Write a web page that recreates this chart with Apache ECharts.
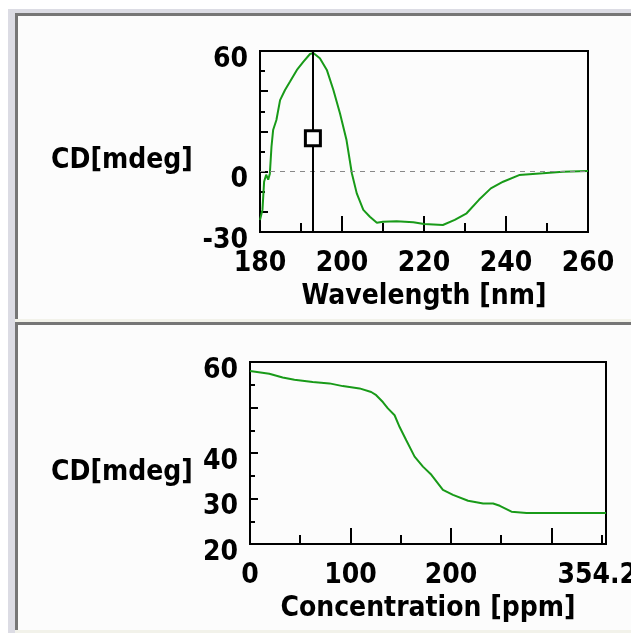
<!DOCTYPE html>
<html>
<head>
<meta charset="utf-8">
<script src="https://cdn.jsdelivr.net/npm/echarts@6/dist/echarts.min.js"></script>
<style>
  html, body { margin: 0; padding: 0; background: #ffffff; overflow: hidden; }
  .strip { position: absolute; left: 8px; top: 9px; width: 700px; height: 700px; background: #dcdce4; }
  .panel { position: absolute; left: 15px; width: 700px; background: #fcfcfc;
           border-left: 3px solid #767676; border-top: 3px solid #767676; box-sizing: border-box; }
  .sep { position: absolute; left: 15px; width: 700px; background: #f2f2ea; }
  #chart { position: absolute; left: 0; top: 0; width: 631px; height: 633px; }
</style>
</head>
<body>
<div class="strip"></div>
<div class="panel" style="top:13px;height:306px"></div>
<div class="sep" style="top:319px;height:3px"></div>
<div class="panel" style="top:322px;height:308px"></div>
<div class="sep" style="top:630px;height:3px"></div>
<div id="chart"></div>
<script>
// spectrum (upper panel)
var wavelength = [180, 180.6, 181, 181.5, 182, 182.4, 182.8, 183.2, 184, 184.9, 186.1, 187.3, 189, 190.6, 192.2, 193,
  194.6, 196.3, 197.9, 199.5, 201.1, 202.4, 203.6, 205.2, 206.8, 208.5, 210, 213.3, 217.4, 220, 224.6, 227.5,
  230.4, 233.4, 236.3, 239.3, 243.2, 249, 253.9, 260];
var cdSpectrum = [-24, -19, -5, -1.5, -4, -1, 12.4, 20.7, 25.7, 35.6, 40.6, 44.7, 50.6, 54.7, 58.5, 59,
  56.4, 50.6, 40.6, 29, 15.7, -0.8, -10.8, -19, -22.4, -25.4, -24.9, -24.6, -25.2, -26, -26.5, -24,
  -20.7, -14, -8.3, -5, -1.7, -0.8, 0, 0.3];
var cursorWl = 192.9;
var cursorCd = 16.6;

// titration (lower panel)
var concentration = [0, 19.2, 32.5, 44.2, 62.4, 79.1, 92.3, 109, 120.6, 125.6, 132.2, 137.2, 143.9, 148.9, 155.5,
  163.8, 172.1, 180.5, 192, 202, 217, 232, 241.9, 248.6, 260.2, 275.2, 354.27];
var cdTitration = [58, 57.4, 56.6, 56.1, 55.6, 55.3, 54.7, 54.2, 53.4, 52.7, 51.2, 49.8, 48.3, 45.7, 42.8,
  39.2, 37, 35.2, 31.9, 30.8, 29.5, 28.9, 28.9, 28.4, 27.1, 26.8, 26.8];

// ticks / labels
var wlLabels = [180, 200, 220, 240, 260];
var wlMajor = [200, 220, 240];
var wlMinor = [190, 210, 230, 250];
var cdTopLabels = [-30, 0, 60];
var cdTopMajor = [-20, 0, 20, 40];
var cdTopMinor = [-10, 10, 30, 50];
var concLabels = [0, 100, 200, 354.27];
var concMajor = [100, 200, 300];
var concMinor = [50, 150, 250, 350];
var cdBotLabels = [20, 30, 40, 60];
var cdBotMajor = [30, 40, 50];
var cdBotMinor = [25, 35, 45, 55];

var FONT = 'DejaVu Sans Condensed';
var GREEN = '#189a18';

var labelX = { fontFamily: FONT, fontWeight: 'bold', fontSize: 28, color: '#000', margin: 18 };
var labelY = { fontFamily: FONT, fontWeight: 'bold', fontSize: 28, color: '#000', margin: 12, verticalAlign: 'top', lineHeight: 17 };
var nameStyle = { fontFamily: FONT, fontWeight: 'bold', fontSize: 28, color: '#000' };

function xAx(grid, min, max, labels, ticks, len, name) {
  return {
    type: 'value', gridIndex: grid, min: min, max: max, position: 'bottom',
    name: name || '', nameLocation: 'middle', nameGap: 51, nameTextStyle: nameStyle,
    axisLine: { show: false, onZero: false },
    splitLine: { show: false },
    axisTick: { show: true, inside: true, length: len, customValues: ticks, lineStyle: { color: '#000', width: 2 } },
    axisLabel: labels ? Object.assign({ show: true, customValues: labels }, labelX) : { show: false }
  };
}
function yAx(grid, min, max, labels, ticks, len) {
  return {
    type: 'value', gridIndex: grid, min: min, max: max, position: 'left',
    axisLine: { show: false, onZero: false },
    splitLine: { show: false },
    axisTick: { show: true, inside: true, length: len, customValues: ticks, lineStyle: { color: '#000', width: 2 } },
    axisLabel: labels ? Object.assign({ show: true, customValues: labels }, labelY) : { show: false }
  };
}

var chart = echarts.init(document.getElementById('chart'), null, { renderer: 'canvas' });
chart.setOption({
  backgroundColor: 'transparent',
  animation: false,
  grid: [
    { left: 260, top: 51, width: 328, height: 181, show: true, borderColor: '#000', borderWidth: 2,
      backgroundColor: 'transparent', outerBoundsMode: 'none', containLabel: false },
    { left: 250, top: 362, width: 356, height: 182, show: true, borderColor: '#000', borderWidth: 2,
      backgroundColor: 'transparent', outerBoundsMode: 'none', containLabel: false }
  ],
  xAxis: [
    xAx(0, 180, 260, wlLabels, wlMajor, 16, 'Wavelength [nm]'),
    xAx(0, 180, 260, null, wlMinor, 9),
    xAx(1, 0, 354.27, concLabels, concMajor, 16, 'Concentration [ppm]'),
    xAx(1, 0, 354.27, null, concMinor, 9)
  ],
  yAxis: [
    yAx(0, -30, 60, cdTopLabels, cdTopMajor, 8),
    yAx(0, -30, 60, null, cdTopMinor, 5),
    yAx(1, 20, 60, cdBotLabels, cdBotMajor, 8),
    yAx(1, 20, 60, null, cdBotMinor, 5)
  ],
  graphic: [
    { type: 'text', left: 51, top: 147, style: { text: 'CD[mdeg]', font: 'bold 28px "DejaVu Sans Condensed"', fill: '#000' } },
    { type: 'text', left: 51, top: 459, style: { text: 'CD[mdeg]', font: 'bold 28px "DejaVu Sans Condensed"', fill: '#000' } }
  ],
  series: [
    {
      type: 'line', xAxisIndex: 0, yAxisIndex: 0, symbol: 'none',
      data: wavelength.map(function (w, i) { return [w, cdSpectrum[i]]; }),
      lineStyle: { color: GREEN, width: 2 },
      markLine: {
        silent: true, symbol: 'none', label: { show: false },
        data: [
          { yAxis: 0, lineStyle: { color: '#888', width: 1, type: [5, 5] } },
          { xAxis: cursorWl, lineStyle: { color: '#000', width: 2, type: 'solid' } }
        ]
      }
    },
    {
      type: 'scatter', xAxisIndex: 0, yAxisIndex: 0, symbol: 'rect', symbolSize: 15,
      data: [[cursorWl, cursorCd]],
      itemStyle: { color: '#fff', borderColor: '#000', borderWidth: 3, opacity: 1 },
      z: 5
    },
    {
      type: 'line', xAxisIndex: 2, yAxisIndex: 2, symbol: 'none',
      data: concentration.map(function (c, i) { return [c, cdTitration[i]]; }),
      lineStyle: { color: GREEN, width: 2 }
    }
  ]
});
</script>
</body>
</html>
